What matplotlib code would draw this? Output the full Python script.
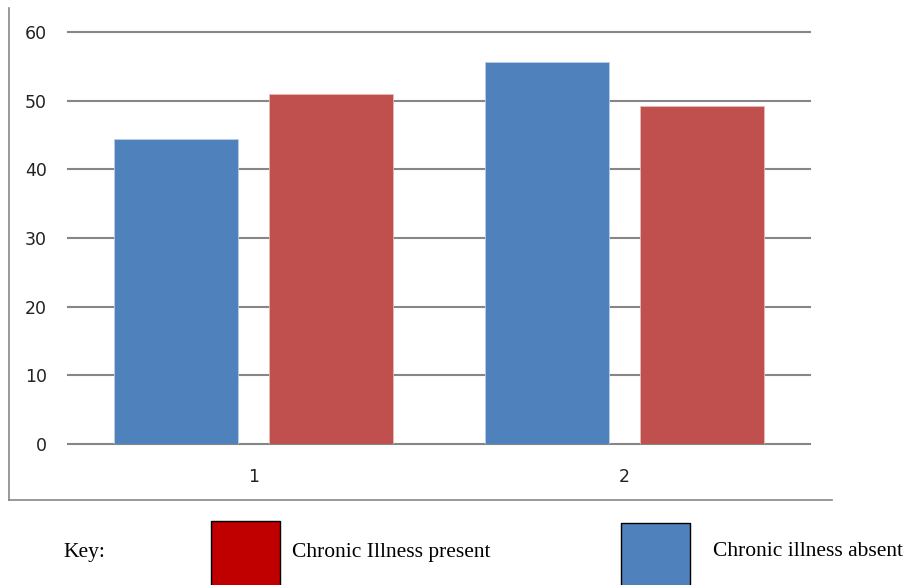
import numpy as np
import matplotlib.pyplot as plt
from matplotlib.patches import Rectangle
from matplotlib.lines import Line2D

groups = ['1', '2']
absent = [44.4, 55.7]    # blue, chronic illness absent
present = [50.9, 49.2]   # red, chronic illness present
yticks = [0, 10, 20, 30, 40, 50, 60]

W, H = 904, 585
fig = plt.figure(figsize=(W / 100, H / 100), dpi=100)


def fx(px):
    return px / W


def fy(py):
    return 1 - py / H


# plot area: x 68..810, y 32 (60) .. 444 (0)
ax = fig.add_axes([fx(68), fy(444), fx(810) - fx(68), fy(32) - fy(444)])

x = np.arange(1, len(groups) + 1)
w = 0.332
off = 0.209
ax.bar(x - off, absent, width=w, color='#4F81BD', edgecolor='#B9CDE5', linewidth=0.6, zorder=3)
ax.bar(x + off, present, width=w, color='#C0504D', edgecolor='#E6B9B8', linewidth=0.6, zorder=3)

ax.set_xlim(0.5, 2.5)
ax.set_ylim(0, 60)
ax.set_yticks(yticks)
ax.set_xticks(x)
ax.set_xticklabels(groups)
for s in ax.spines.values():
    s.set_visible(False)
ax.grid(axis='y', color='#868686', linewidth=1.5, zorder=1)
ax.set_axisbelow(True)
ax.tick_params(axis='y', length=0, pad=15, labelsize=12.5, labelcolor='#222222')
ax.tick_params(axis='x', length=0, pad=17.5, labelsize=12.5, labelcolor='#222222')
for gl in ax.get_ygridlines():
    gl.set_clip_on(False)

# outer frame (left and bottom only)
fig.add_artist(Line2D([fx(9), fx(9)], [fy(8), fy(500)], color='#888888', lw=1.2))
fig.add_artist(Line2D([fx(9), fx(832)], [fy(500), fy(500)], color='#888888', lw=1.2))

# key
serif = ['Liberation Serif', 'DejaVu Serif']
fs = 15.5
fig.text(fx(63), fy(552), 'Key:', family=serif, fontsize=fs, va='center', ha='left')
fig.add_artist(Rectangle((fx(211), fy(590)), fx(69), fy(521) - fy(590),
                         facecolor='#C00000', edgecolor='black', lw=1.0))
fig.text(fx(292), fy(552), 'Chronic Illness present', family=serif, fontsize=fs, va='center', ha='left')
fig.add_artist(Rectangle((fx(621), fy(590)), fx(69), fy(523) - fy(590),
                         facecolor='#4F81BD', edgecolor='black', lw=1.0))
fig.text(fx(713), fy(552), 'Chronic illness absent', family=serif, fontsize=fs, va='center', ha='left')

fig.savefig('out.png', dpi=100)
